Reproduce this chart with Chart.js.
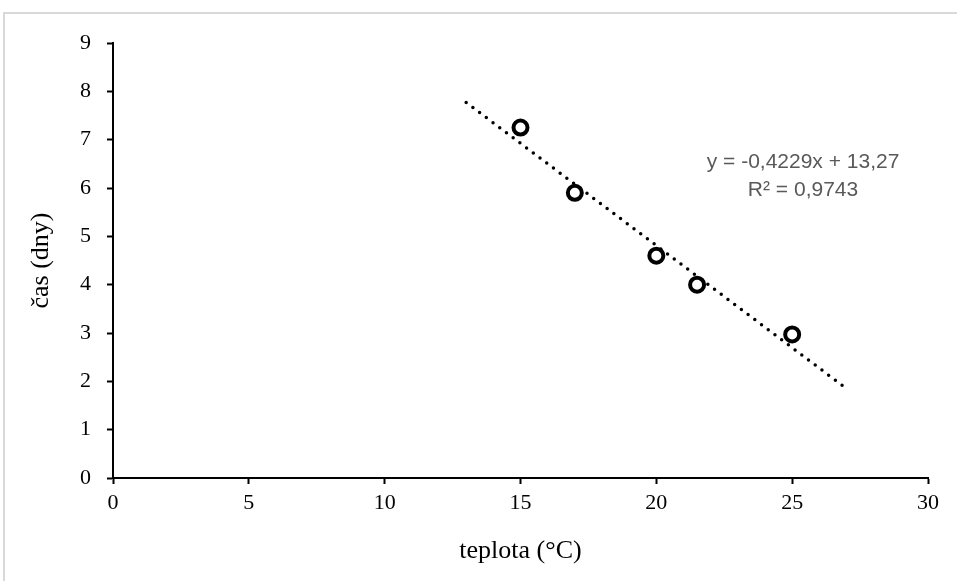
<!DOCTYPE html>
<html>
<head>
<meta charset="utf-8">
<script src="https://cdn.jsdelivr.net/npm/chart.js@4.4.0/dist/chart.umd.min.js"></script>
<style>
  html, body { margin: 0; padding: 0; background: #fff; }
  #wrap { position: relative; width: 957px; height: 581px; overflow: hidden; }
  #frame { position: absolute; left: 3px; top: 12px; width: 980px; height: 600px;
           border: 2px solid #d9d9d9; box-sizing: border-box; pointer-events: none; }
  canvas { position: absolute; left: 0; top: 0; }
</style>
</head>
<body>
<div id="wrap">
  <canvas id="chart1" width="957" height="581"></canvas>
  <div id="frame"></div>
</div>
<script>
// measured points: temperature vs. days
const teplota = [15, 17, 20, 21.5, 25];
const casDny = [7.25, 5.9, 4.6, 4.0, 2.97];

// trendline ends
const trendX = [13, 27];
const trendY = [7.77, 1.85];

const xTicks = [0, 5, 10, 15, 20, 25, 30];
const yTicks = [0, 1, 2, 3, 4, 5, 6, 7, 8, 9];

const eqLines = ['y = -0,4229x + 13,27', 'R² = 0,9743'];

let points = [];
for (let i = 0; i < teplota.length; i++) {
    points.push({x: teplota[i], y: casDny[i]});
}
let trend = [];
for (let i = 0; i < trendX.length; i++) {
    trend.push({x: trendX[i], y: trendY[i]});
}

const serif = 'Liberation Serif';

// draws the trendline equation next to the line
const eqLabel = {
    id: 'eqLabel',
    afterDatasetsDraw(chart) {
        const c = chart.ctx;
        const xs = chart.scales.x, ys = chart.scales.y;
        const cx = xs.getPixelForValue(25.4);
        const cy = ys.getPixelForValue(6.54);
        c.save();
        c.font = '21px "Liberation Sans"';
        c.fillStyle = '#595959';
        c.textAlign = 'center';
        c.textBaseline = 'middle';
        c.fillText(eqLines[0], cx, cy);
        c.fillText(eqLines[1], cx, cy + 28);
        c.restore();
    }
};

const ctx = document.getElementById('chart1');
const chart1 = new Chart(ctx, {
    type: 'scatter',
    data: {
        datasets: [
            {
                label: 'trend',
                data: trend,
                showLine: true,
                borderColor: '#000',
                borderWidth: 3.5,
                borderDash: [0, 8.4],
                borderCapStyle: 'round',
                pointRadius: 0,
                fill: false
            },
            {
                label: 'čas',
                data: points,
                pointRadius: 7,
                pointBorderWidth: 4,
                pointBorderColor: '#000',
                pointBackgroundColor: '#fff',
                borderColor: '#000',
                backgroundColor: '#fff'
            }
        ]
    },
    options: {
        responsive: false,
        animation: false,
        layout: { padding: { left: 0, right: 29, top: 43, bottom: 0 } },
        plugins: {
            legend: { display: false },
            tooltip: { enabled: false }
        },
        scales: {
            x: {
                type: 'linear',
                min: 0, max: 30,
                afterBuildTicks(s) { s.ticks = xTicks.map(v => ({value: v})); },
                afterFit(s) { s.height = 103; },
                grid: { display: true, drawOnChartArea: false, drawTicks: true, tickLength: 6, tickWidth: 2, tickColor: '#000' },
                border: { display: true, color: '#000', width: 2 },
                ticks: { color: '#000', font: { family: serif, size: 22 }, padding: 6, maxRotation: 0 },
                title: { display: true, text: 'teplota (°C)', color: '#000',
                         font: { family: serif, size: 26 }, padding: { top: 0, bottom: 14 } }
            },
            y: {
                type: 'linear',
                min: 0, max: 9,
                afterBuildTicks(s) { s.ticks = yTicks.map(v => ({value: v})); },
                afterFit(s) { s.width = 113; },
                grid: { display: true, drawOnChartArea: false, drawTicks: true, tickLength: 6, tickWidth: 2, tickColor: '#000' },
                border: { display: true, color: '#000', width: 2 },
                ticks: { color: '#000', font: { family: serif, size: 22 }, padding: 16 },
                title: { display: true, text: 'čas (dny)', color: '#000',
                         font: { family: serif, size: 26 }, padding: { top: 26, bottom: 0 } }
            }
        }
    },
    plugins: [eqLabel]
});
</script>
</body>
</html>
